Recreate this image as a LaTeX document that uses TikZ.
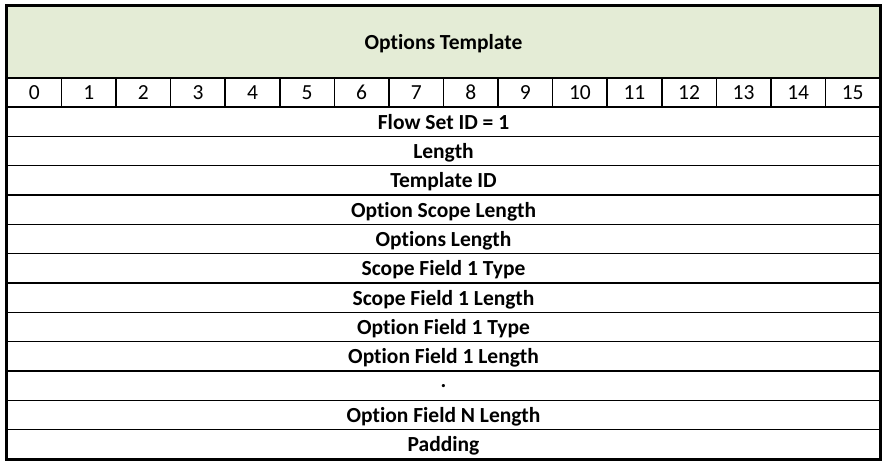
\documentclass[tikz,border=0pt]{standalone}
\usepackage{fontspec}
\setmainfont{Carlito}[Ligatures=CommonOff]
\usepackage{tikz}
\definecolor{hdrgreen}{HTML}{E4ECD6}

\begin{document}
\begin{tikzpicture}[x=1pt,y=-1pt,
    cell/.style={draw=black, line width=1.6pt, inner sep=0pt, text depth=0pt, font=\fontsize{21.5}{24}\selectfont},
    hdrbox/.style={cell, fill=hdrgreen, minimum width=873, minimum height=72, font=\fontsize{21.5}{24}\selectfont\bfseries},
    bitbox/.style={cell, minimum width=54.5625, minimum height=29},
    rowbox/.style={cell, minimum width=873, minimum height=29.33, font=\fontsize{21.5}{24}\selectfont\bfseries}]

\useasboundingbox (0,0) rectangle (885,465);

\node[hdrbox] (tmpl) at (443.5,42) {Options Template};

\foreach \i in {0,...,15}
    \node[bitbox] (b\i) at ({7+54.5625*(\i+0.5)},92.5) {\i};

\foreach \t [count=\k] in {Flow Set ID = 1, Length, Template ID, Option Scope Length,
    Options Length, Scope Field 1 Type, Scope Field 1 Length, Option Field 1 Type,
    Option Field 1 Length, ., Option Field N Length, Padding}
    \node[rowbox] (r\k) at (443.5,{107+29.33*(\k-0.5)}) {\t};

% outer frame
\draw[line width=2pt] (tmpl.north west) rectangle (r12.south east);

\end{tikzpicture}
\end{document}
